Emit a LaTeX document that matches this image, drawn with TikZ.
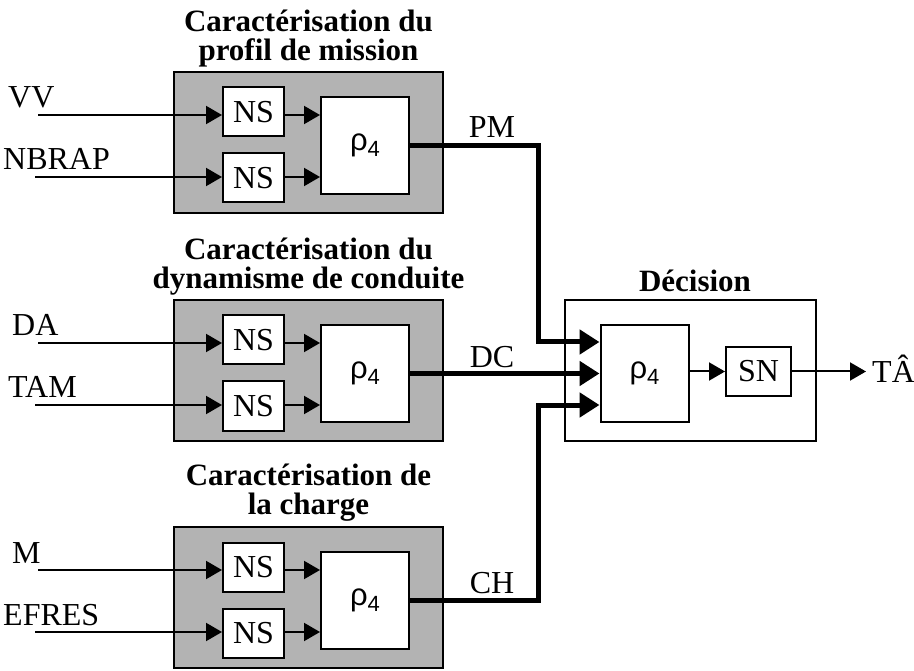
\documentclass[tikz,border=0pt]{standalone}
\usepackage{fontspec}
\setmainfont{Liberation Serif}
\newfontfamily\rhofont{Liberation Sans}
\usetikzlibrary{arrows.meta,calc}
\definecolor{boxgray}{HTML}{B3B3B3}
\newcommand\rhotext{{\rhofont\fontsize{31}{31}\selectfont ρ\raisebox{-6pt}{\fontsize{22}{22}\selectfont 4}}}
\newcommand\charmod[8]{%
\begin{scope}[yshift=-#2pt]
\node[grayblock] (#1box) at (308.5,70.5) {};
\node[title, anchor=south] (#1title) at (308.5,-5) {#3\\#4};
\node[nsbox] (#1nsa) at (253.5,40) {NS};
\node[nsbox] (#1nsb) at (253.5,106) {NS};
\node[rhobox] (#1rho) at (365,73.5) {\rhotext};
\coordinate (#1ia) at (38,43);
\coordinate (#1ib) at (35,105);
\node[lab, anchor=base west] (#1la) at (#7,36) {#5};
\node[lab, anchor=base west] (#1lb) at (#8,98) {#6};
\draw[thinarr] (#1ia) -- (#1nsa.west |- #1ia);
\draw[thinarr] (#1ib) -- (#1nsb.west |- #1ib);
\draw[thinarr] (#1nsa.east |- #1ia) -- (#1rho.west |- #1ia);
\draw[thinarr] (#1nsb.east |- #1ib) -- (#1rho.west |- #1ib);
\end{scope}}
\begin{document}
\begin{tikzpicture}[x=1pt,y=-1pt,
  txt/.style={font=\fontsize{32}{30}\selectfont},
  lab/.style={txt, inner sep=0pt},
  title/.style={font=\fontsize{31}{29}\selectfont\bfseries, align=center, inner sep=0pt},
  grayblock/.style={draw, line width=2pt, fill=boxgray, minimum width=269pt, minimum height=141pt, inner sep=0pt},
  whiteblock/.style={draw, line width=1.8pt, fill=white, minimum width=251pt, minimum height=141pt, inner sep=0pt},
  nsbox/.style={txt, draw, line width=2pt, fill=white, minimum width=61pt, minimum height=49pt, inner sep=0pt},
  rhobox/.style={draw, line width=2pt, fill=white, minimum width=88pt, minimum height=97pt, inner sep=0pt},
  snbox/.style={txt, draw, line width=2pt, fill=white, minimum width=65pt, minimum height=49pt, inner sep=0pt},
  thinarr/.style={line width=2pt, -{Triangle[length=16pt,width=18pt]}},
  thickarr/.style={line width=5pt, line join=miter, -{Triangle[length=20pt,width=24pt]}}
]
\useasboundingbox (0,0) rectangle (914,671);

\charmod{pm}{72}{Caractérisation du}{profil de mission}{VV}{NBRAP}{8}{3}
\charmod{dc}{300}{Caractérisation du}{dynamisme de conduite}{DA}{TAM}{12}{8}
\charmod{ch}{527}{Caractérisation de}{la charge}{M}{EFRES}{12}{3}

% Decision block
\node[whiteblock] (dec) at (690.5,370.5) {};
\node[title, anchor=base] (dectitle) at (695,292) {Décision};
\node[rhobox] (decrho) at (644.5,373.5) {\rhotext};
\node[snbox] (sn) at (758.5,371.5) {SN};
\node[lab, anchor=base west] (ta) at (872,382) {TÂ};
\draw[thinarr] (decrho.east |- sn.west) -- (sn.west);
\draw[thinarr, shorten >=6pt] (sn.east) -- (ta.west |- sn.east);

% Bus
\coordinate (xbus) at (538,0);
\draw[thickarr] (pmrho.east) -- (pmrho.east -| xbus) |- ($(decrho.west)+(0,-31.5)$);
\draw[thickarr] (dcrho.east) -- (decrho.west |- dcrho.east);
\draw[thickarr] (chrho.east) -- (chrho.east -| xbus) |- ($(decrho.west)+(0,31.5)$);

\node[lab, anchor=base] (pmlab) at (492,138) {PM};
\node[lab, anchor=base] (dclab) at (492,367) {DC};
\node[lab, anchor=base] (chlab) at (492,593) {CH};
\end{tikzpicture}
\end{document}
